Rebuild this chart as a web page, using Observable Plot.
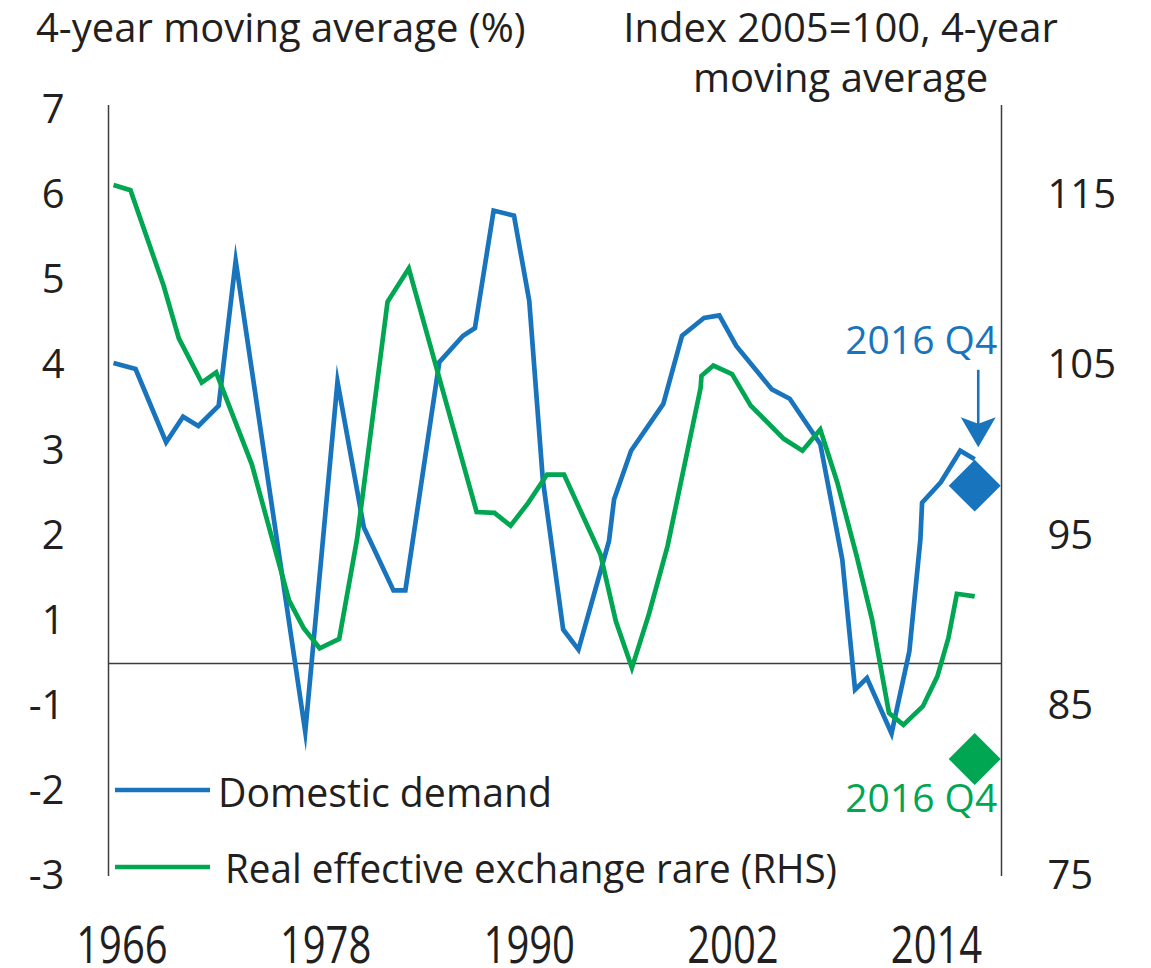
<!DOCTYPE html>
<html>
<head>
<meta charset="utf-8">
<script src="https://cdn.jsdelivr.net/npm/d3@7"></script>
<script src="https://cdn.jsdelivr.net/npm/@observablehq/plot@0.6"></script>
<style>
  html, body { margin: 0; padding: 0; background: #fff; overflow: hidden; }
  #wrap { position: relative; width: 1151px; height: 968px; }
  #wrap > svg { position: absolute; left: 0; top: 0; }
</style>
</head>
<body>
<div id="wrap"></div>
<script>
// ---------------- data ----------------
const demandYears = [1966.0, 1967.3, 1969.1, 1970.1, 1971.0, 1972.2, 1973.2, 1977.3, 1979.2, 1980.75, 1982.5, 1983.2, 1985.2, 1986.6, 1987.3, 1988.4, 1989.6, 1990.5, 1991.3, 1992.5, 1993.4, 1995.2, 1995.5, 1996.5, 1998.4, 1999.5, 2000.8, 2001.7, 2002.7, 2004.8, 2005.85, 2007.65, 2008.95, 2009.7, 2010.4, 2011.85, 2012.9, 2013.55, 2013.65, 2014.75, 2015.9, 2016.75];
const demandValues = [4.03, 3.96, 3.10, 3.40, 3.29, 3.53, 5.23, -1.3, 3.81, 2.10, 1.36, 1.36, 4.04, 4.35, 4.44, 5.82, 5.76, 4.76, 2.66, 0.80, 0.33, 1.94, 2.43, 3.00, 3.55, 4.35, 4.56, 4.59, 4.23, 3.72, 3.61, 3.08, 1.72, -0.61, -0.34, -1.32, 0.29, 1.96, 2.39, 2.63, 3.00, 2.90];

const reerYears = [1966.0, 1967.0, 1968.95, 1969.85, 1971.2, 1972.05, 1974.15, 1976.35, 1977.2, 1978.15, 1979.3, 1980.35, 1982.15, 1983.4, 1987.4, 1988.45, 1989.4, 1990.45, 1991.55, 1992.55, 1994.7, 1995.6, 1996.55, 1997.55, 1998.65, 2000.6, 2000.65, 2001.35, 2002.45, 2003.55, 2005.5, 2006.6, 2007.65, 2008.65, 2009.8, 2010.7, 2011.7, 2012.55, 2013.7, 2014.55, 2015.2, 2015.7, 2016.75];
const reerValues = [115.6, 115.3, 109.7, 106.6, 104.0, 104.6, 99.2, 91.2, 89.6, 88.4, 88.95, 94.8, 108.75, 110.7, 96.4, 96.35, 95.6, 96.95, 98.6, 98.6, 93.9, 90.0, 87.25, 90.4, 94.4, 103.7, 104.4, 105.0, 104.5, 102.65, 100.7, 100.0, 101.25, 98.15, 93.8, 90.1, 84.6, 83.9, 85.0, 86.75, 89.0, 91.6, 91.45];

// latest quarterly observation (2016 Q4)
const latestDemand = [{year: 2016.75, value: 2.59}];
const latestReer = [{year: 2016.75, value: 81.9}];

// annotation anchors (data units)
const demandNote = [{year: 2018.08, value: 4.14, label: "2016 Q4"}];
const reerNote = [{year: 2018.08, value: 78.76, label: "2016 Q4"}];
const demandArrow = [{year: 2016.96, top: 3.95, neck: 3.3, tip: 3.04}];

// axes
const leftTicks = [-3, -2, -1, 1, 2, 3, 4, 5, 6, 7];
const rightTicks = [75, 85, 95, 105, 115];
const xTickYears = [1966, 1978, 1990, 2002, 2014];

// texts
const seriesNames = ["Domestic demand", "Real effective exchange rare (RHS)"];
const leftTitle = "4-year moving average (%)";
const rightTitle = "Index 2005=100, 4-year\nmoving average";

// ---------------- styling / layout ----------------
const blue = "#1874bc";
const green = "#00a651";
const ink = "#231f20";
const axisInk = "#3c3c3c";
const font = "'Open Sans', 'Noto Sans', sans-serif";

const W = 1151, H = 968;
const mL = 108, mR = 150, mT = 105, mB = 92;
const yTop = mT, yBot = H - mB;
const rhsDomain = [75, 120.27];
const ppu = (yBot - yTop) / (rhsDomain[1] - rhsDomain[0]);
const rhsPix = r => yBot - (r - rhsDomain[0]) * ppu;
const xDomain = [1965.705, 2018.33];

// left axis: labels -3..7 without 0 (piecewise, aligned to the right-hand ticks)
const leftTop = 1 + (rhsDomain[1] - 90) / 5;
const leftDomain = [-3, -1, 1, leftTop];
const leftRange = [yBot, rhsPix(85), rhsPix(90), yTop];

const demand = demandYears.map((year, i) => ({year, value: demandValues[i]}));
const reer = reerYears.map((year, i) => ({year, value: reerValues[i]}));

const arrowHead = {
  draw(ctx) {
    ctx.moveTo(0, 0);
    ctx.lineTo(-17.5, -30);
    ctx.lineTo(0, -23.5);
    ctx.lineTo(17.5, -30);
    ctx.closePath();
  }
};

const baseStyle = {fontFamily: font, fontSize: "40px", color: ink, background: "transparent", overflow: "visible"};

const plotA = Plot.plot({
  width: W, height: H,
  marginLeft: mL, marginRight: mR, marginTop: mT, marginBottom: mB,
  style: baseStyle,
  x: {domain: xDomain, label: null},
  y: {type: "linear", domain: leftDomain, range: leftRange, label: null},
  marks: [
    Plot.ruleY([0], {stroke: axisInk, strokeWidth: 1.5}),
    Plot.ruleX(xDomain, {stroke: axisInk, strokeWidth: 1.5}),
    Plot.line(demand, {x: "year", y: "value", stroke: blue, strokeWidth: 4.7,
      strokeLinejoin: "miter", strokeMiterlimit: 10, strokeLinecap: "butt"}),
    Plot.dot(latestDemand, {x: "year", y: "value", symbol: "diamond2", r: 23.4, fill: blue, stroke: "none"}),
    Plot.link(demandArrow, {x1: "year", x2: "year", y1: "top", y2: "neck", stroke: blue, strokeWidth: 2.6}),
    Plot.dot(demandArrow, {x: "year", y: "tip", symbol: arrowHead, fill: blue, stroke: "none"}),
    Plot.text(demandNote, {x: "year", y: "value", text: "label", textAnchor: "end", lineAnchor: "bottom", fill: blue, fontSize: 39}),
    Plot.axisY({ticks: leftTicks, anchor: "left", tickSize: 0, tickPadding: 44, tickFormat: d => String(d), fontSize: 40, label: null}),
    Plot.axisX({ticks: xTickYears.map(y => y + 0.5), anchor: "bottom", tickSize: 0, tickPadding: 51,
      tickFormat: d => String(Math.floor(d)), fontSize: 40, label: null}),
    Plot.text([leftTitle], {text: d => d, frameAnchor: "top-left", textAnchor: "start", lineAnchor: "bottom", dx: -72.5, dy: -64, fontSize: 40, fill: ink}),
    Plot.text([rightTitle], {text: d => d, frameAnchor: "top-right", textAnchor: "middle", lineAnchor: "bottom", lineHeight: 1.27, dx: -161, dy: -13.2, fontSize: 40, fill: ink})
  ]
});

const plotB = Plot.plot({
  width: W, height: H,
  marginLeft: mL, marginRight: mR, marginTop: mT, marginBottom: mB,
  style: baseStyle,
  x: {domain: xDomain, axis: null, label: null},
  y: {domain: rhsDomain, range: [yBot, yTop], label: null},
  marks: [
    Plot.line(reer, {x: "year", y: "value", stroke: green, strokeWidth: 4.7,
      strokeLinejoin: "miter", strokeMiterlimit: 10, strokeLinecap: "butt"}),
    Plot.dot(latestReer, {x: "year", y: "value", symbol: "diamond2", r: 23.4, fill: green, stroke: "none"}),
    Plot.text(reerNote, {x: "year", y: "value", text: "label", textAnchor: "end", lineAnchor: "bottom", fill: green, fontSize: 39}),
    Plot.axisY({ticks: rightTicks, anchor: "right", tickSize: 0, tickPadding: 46, tickFormat: d => String(d), fontSize: 40, label: null})
  ]
});

// stretch the year labels vertically, as in the original
plotA.querySelectorAll('g[aria-label="x-axis tick label"] text').forEach(t => {
  const tr = t.getAttribute("transform");
  if (tr) {
    t.setAttribute("transform", tr + " scale(1,1.26)");
  } else {
    const x = +(t.getAttribute("x") || 0), y = +(t.getAttribute("y") || 0);
    t.setAttribute("x", 0); t.setAttribute("y", 0);
    t.setAttribute("transform", `translate(${x},${y}) scale(1,1.26)`);
  }
});

const wrap = document.getElementById("wrap");
wrap.appendChild(plotA);
wrap.appendChild(plotB);

// legend (inside the plot area, lower left)
const legend = d3.create("svg")
  .attr("width", W).attr("height", H)
  .style("font-family", font).style("font-size", "40px");
const legendItems = [
  {name: seriesNames[0], color: blue, ly: 790, tx: 218, ty: 807, len: 334},
  {name: seriesNames[1], color: green, ly: 867, tx: 225, ty: 883, len: 612}
];
const lg = legend.selectAll("g").data(legendItems).join("g");
lg.append("line").attr("x1", 115).attr("x2", 210).attr("y1", d => d.ly).attr("y2", d => d.ly)
  .attr("stroke", d => d.color).attr("stroke-width", 4.7);
lg.append("text").attr("x", d => d.tx).attr("y", d => d.ty).attr("fill", ink)
  .attr("textLength", d => d.len).attr("lengthAdjust", "spacingAndGlyphs").text(d => d.name);
wrap.appendChild(legend.node());
</script>
</body>
</html>
